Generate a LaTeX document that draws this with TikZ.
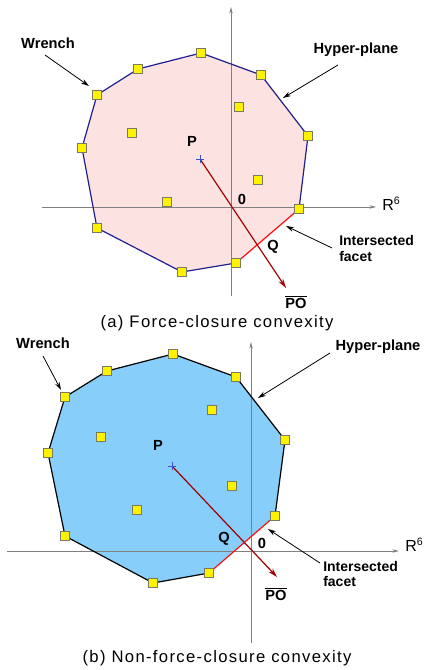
\documentclass[tikz,border=0pt]{standalone}
\usepackage{fontspec}
\setmainfont{Liberation Sans}
\newfontfamily\capfont[LetterSpace=8]{Liberation Sans}
\usetikzlibrary{arrows.meta}
\definecolor{pinkfill}{HTML}{FDE2E2}
\definecolor{bluefill}{HTML}{87CEFA}
\definecolor{navyedge}{HTML}{202090}
\definecolor{sqborder}{HTML}{7A7A60}
\definecolor{axisgray}{HTML}{808080}
\definecolor{darkred}{HTML}{A00000}
\definecolor{facetred}{HTML}{FF1010}
\definecolor{crossblue}{HTML}{4050C0}
\begin{document}
\begin{tikzpicture}[x=0.75pt,y=-0.75pt,
  wr/.style={draw=sqborder, fill=yellow, line width=0.6pt, minimum size=6.6pt, inner sep=0pt, outer sep=0pt},
  lab/.style={font=\fontsize{11}{13}\selectfont\bfseries, inner sep=0pt},
  smalllab/.style={font=\fontsize{10.5}{11.5}\selectfont\bfseries, inner sep=0pt, align=left, anchor=west},
  caplab/.style={font=\capfont\fontsize{12.5}{15}\selectfont, inner sep=0pt},
  rlab/.style={font=\fontsize{12}{14}\selectfont, inner sep=0pt, anchor=west},
  axis/.style={draw=axisgray, line width=0.6pt, -{Stealth[length=5pt,width=2.6pt]}},
  annot/.style={draw=black, line width=0.6pt, -{Stealth[length=6pt,width=3.6pt]}},
  poarrow/.style={draw=darkred, line width=0.9pt, -{Stealth[length=7pt,width=4pt]}},
  facet/.style={draw=facetred, line width=0.9pt},
  cross/.style={draw=crossblue, line width=0.5pt}]
\useasboundingbox (0,0) rectangle (428,670);

% ================= (a) =================
\coordinate (a1) at (201,53);
\coordinate (a2) at (261,75);
\coordinate (a3) at (308,136);
\coordinate (a4) at (299,209);
\coordinate (a5) at (236,263);
\coordinate (a6) at (182,272);
\coordinate (a7) at (97,228);
\coordinate (a8) at (82,148);
\coordinate (a9) at (97,95);
\coordinate (a10) at (138,69);
\fill[pinkfill] (a1)--(a2)--(a3)--(a4)--(a5)--(a6)--(a7)--(a8)--(a9)--(a10)--cycle;
% axes
\coordinate (ayb) at (231,296);
\coordinate (ayt) at (231,7);
\coordinate (axl) at (42,207);
\coordinate (axr) at (376,207);
\draw[axis] (ayb) -- (ayt);
\draw[axis] (axl) -- (axr);
% hull edges
\draw[navyedge, line width=0.9pt] (a4)--(a3)--(a2)--(a1)--(a10)--(a9)--(a8)--(a7)--(a6)--(a5);
\draw[facet] (a4) -- (a5);
% PO arrow
\coordinate (Pa) at (200,159);
\coordinate (POa) at (286,288);
\draw[poarrow] (Pa) -- (POa);
\draw[cross] ([xshift=-3.2pt]Pa) -- ([xshift=3.2pt]Pa);
\draw[cross] ([yshift=-3.2pt]Pa) -- ([yshift=3.2pt]Pa);
% squares
\foreach \v in {a1,a2,a3,a4,a5,a6,a7,a8,a9,a10} \node[wr] at (\v) {};
\node[wr] (ai1) at (239,107) {};
\node[wr] (ai2) at (132,133) {};
\node[wr] (ai3) at (258,180) {};
\node[wr] (ai4) at (167,202) {};
% labels
\node[lab] (wrA) at (48,43) {Wrench};
\node[lab] (hpA) at (356,50) {Hyper-plane};
\node[lab] (pA) at (192,141) {P};
\node[lab] (oA) at (242,199) {0};
\node[lab] (qA) at (273,247) {Q};
\node[lab] (poA) at (296,302) {$\overline{\mbox{\bfseries PO}}$};
\node[rlab] (rA) at (382,204) {R\textsuperscript{6}};
\node[smalllab] (ifA) at (339,248.5) {Intersected\\facet};
\node[caplab] (capA) at (217,323) {(a) Force-closure convexity};
% annotation arrows
\coordinate (wrAt) at (45,55);
\coordinate (wrAh) at (89,86);
\coordinate (hpAt) at (338,65);
\coordinate (hpAh) at (283,98);
\coordinate (ifAt) at (332,248);
\coordinate (ifAh) at (286,226);
\draw[annot] (wrAt) -- (wrAh);
\draw[annot] (hpAt) -- (hpAh);
\draw[annot] (ifAt) -- (ifAh);

% ================= (b) =================
\coordinate (b1) at (173,354);
\coordinate (b2) at (236,377);
\coordinate (b3) at (285,440);
\coordinate (b4) at (275,516);
\coordinate (b5) at (209,573);
\coordinate (b6) at (153,583);
\coordinate (b7) at (65,536);
\coordinate (b8) at (48,453);
\coordinate (b9) at (65,397);
\coordinate (b10) at (107,371);
\fill[bluefill] (b1)--(b2)--(b3)--(b4)--(b5)--(b6)--(b7)--(b8)--(b9)--(b10)--cycle;
\coordinate (byb) at (251,643);
\coordinate (byt) at (251,342);
\coordinate (bxl) at (7,551);
\coordinate (bxr) at (399,551);
\draw[axis] (byb) -- (byt);
\draw[axis] (bxl) -- (bxr);
\draw[black, line width=0.9pt] (b4)--(b3)--(b2)--(b1)--(b10)--(b9)--(b8)--(b7)--(b6)--(b5);
\draw[facet] (b4) -- (b5);
\coordinate (Pb) at (172,466);
\coordinate (POb) at (277,577);
\draw[poarrow] (Pb) -- (POb);
\draw[cross] ([xshift=-3.2pt]Pb) -- ([xshift=3.2pt]Pb);
\draw[cross] ([yshift=-3.2pt]Pb) -- ([yshift=3.2pt]Pb);
\foreach \v in {b1,b2,b3,b4,b5,b6,b7,b8,b9,b10} \node[wr] at (\v) {};
\node[wr] (bi1) at (212,410) {};
\node[wr] (bi2) at (101,437) {};
\node[wr] (bi3) at (232,486) {};
\node[wr] (bi4) at (137,510) {};
\node[lab] (wrB) at (43,343) {Wrench};
\node[lab] (hpB) at (378,347) {Hyper-plane};
\node[lab] (pB) at (158,445) {P};
\node[lab] (qB) at (224,539) {Q};
\node[lab] (oB) at (262,543) {0};
\node[lab] (poB) at (276,594) {$\overline{\mbox{\bfseries PO}}$};
\node[rlab] (rB) at (405,545) {R\textsuperscript{6}};
\node[smalllab] (ifB) at (323,574) {Intersected\\facet};
\node[caplab] (capB) at (217,658) {(b) Non-force-closure convexity};
\coordinate (wrBt) at (43,356);
\coordinate (wrBh) at (61,390);
\coordinate (hpBt) at (330,353);
\coordinate (hpBh) at (258,398);
\coordinate (ifBt) at (320,563);
\coordinate (ifBh) at (268,529);
\draw[annot] (wrBt) -- (wrBh);
\draw[annot] (hpBt) -- (hpBh);
\draw[annot] (ifBt) -- (ifBh);
\end{tikzpicture}
\end{document}
